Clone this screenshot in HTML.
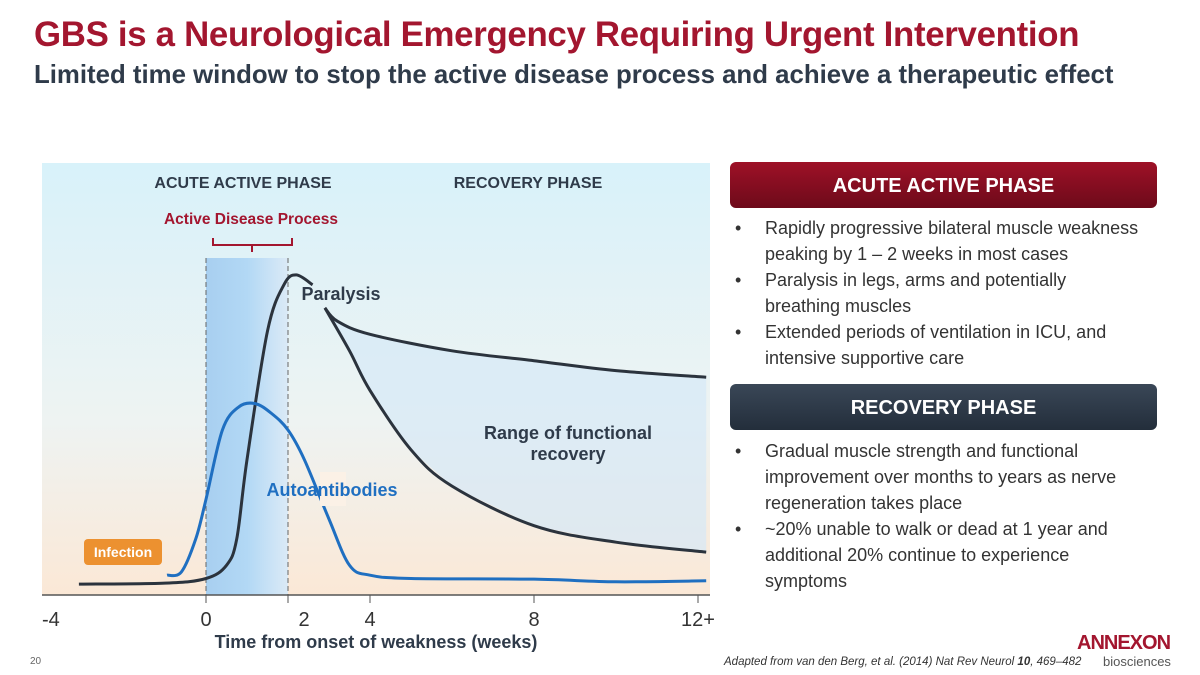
<!DOCTYPE html>
<html><head><meta charset="utf-8"><style>
body{margin:0;width:1200px;height:675px;overflow:hidden;background:#fff;font-family:"Liberation Sans",Calibri,sans-serif;position:relative}
.t1{position:absolute;left:34px;top:15px;font-size:34.8px;font-weight:bold;color:#a3162f;letter-spacing:-0.3px}
.t2{position:absolute;left:34px;top:61px;font-size:25.8px;font-weight:bold;color:#2f3b4a}
.hdr{position:absolute;left:730px;width:427px;height:46px;border-radius:6px;color:#fff;font-weight:bold;font-size:20px;text-align:center;line-height:48px}
ul{position:absolute;left:735px;margin:0;padding:0 0 0 30px;width:420px;font-size:18px;color:#333;line-height:26px;white-space:nowrap}
li{margin-bottom:0;list-style:none;position:relative}
li:before{content:"•";position:absolute;left:-30px}
</style></head><body>
<div class="t1">GBS is a Neurological Emergency Requiring Urgent Intervention</div>
<div class="t2">Limited time window to stop the active disease process and achieve a therapeutic effect</div>
<svg width="720" height="675" style="position:absolute;left:0;top:0" id="chart">
<defs>
<linearGradient id="bg" x1="0" y1="0" x2="0" y2="1"><stop offset="0" stop-color="#d8f2fa"/><stop offset="0.6" stop-color="#eef3f2"/><stop offset="1" stop-color="#fbe8d6"/></linearGradient>
<linearGradient id="band" x1="0" y1="0" x2="1" y2="0"><stop offset="0" stop-color="#a8cff0"/><stop offset="0.5" stop-color="#b2d8f5"/><stop offset="1" stop-color="#dbeaf6"/></linearGradient>
</defs>
<rect x="42" y="163" width="668" height="432" fill="url(#bg)"/>
<g id="marks"></g>
<text x="243" y="188" font-size="16" font-weight="bold" fill="#2f3b4a" text-anchor="middle">ACUTE ACTIVE PHASE</text>
<text x="528" y="188" font-size="16" font-weight="bold" fill="#2f3b4a" text-anchor="middle">RECOVERY PHASE</text>
<text x="251" y="224" font-size="15.5" font-weight="bold" fill="#a3162f" text-anchor="middle">Active Disease Process</text>
<path d="M213 238 V245 H292 V238 M252 245 V252" stroke="#a3162f" stroke-width="2" fill="none"/>
<text x="341" y="300" font-size="18" font-weight="bold" fill="#2f3b4a" text-anchor="middle">Paralysis</text>
<text x="568" y="439" font-size="18" font-weight="bold" fill="#2f3b4a" text-anchor="middle">Range of functional</text>
<text x="568" y="460" font-size="18" font-weight="bold" fill="#2f3b4a" text-anchor="middle">recovery</text>
<rect x="320" y="472" width="26" height="34" fill="#fbf1e6"/>
<text x="332" y="496" font-size="18" font-weight="bold" fill="#1f6fc1" text-anchor="middle">Autoantibodies</text>
<rect x="84" y="539" width="78" height="26" rx="4" fill="#ec9130"/>
<text x="123" y="557" font-size="14" font-weight="bold" fill="#fff" text-anchor="middle">Infection</text>
<line x1="42" y1="595" x2="710" y2="595" stroke="#555" stroke-width="1.5"/>
<g id="ticks"></g>
<text x="376" y="648" font-size="18" font-weight="bold" fill="#2f3b4a" text-anchor="middle">Time from onset of weakness (weeks)</text>
<text x="30" y="664" font-size="10" fill="#666">20</text>
</svg>
<div class="hdr" style="top:162px;background:linear-gradient(#9e1127,#6d0a1a)">ACUTE ACTIVE PHASE</div>
<ul style="top:215px">
<li>Rapidly progressive bilateral muscle weakness<br>peaking by 1 – 2 weeks in most cases</li>
<li>Paralysis in legs, arms and potentially<br>breathing muscles</li>
<li>Extended periods of ventilation in ICU, and<br>intensive supportive care</li>
</ul>
<div class="hdr" style="top:384px;background:linear-gradient(#3a4757,#232e3b)">RECOVERY PHASE</div>
<ul style="top:438px">
<li>Gradual muscle strength and functional<br>improvement over months to years as nerve<br>regeneration takes place</li>
<li>~20% unable to walk or dead at 1 year and<br>additional 20% continue to experience<br>symptoms</li>
</ul>
<div style="position:absolute;left:724px;top:656px;font-size:11.5px;font-style:italic;color:#333">Adapted from van den Berg, et al. (2014) Nat Rev Neurol <b>10</b>, 469–482</div>
<div style="position:absolute;left:1077px;top:632px;font-size:20px;font-weight:bold;color:#a3162f;letter-spacing:-1px">ANNEXON</div>
<div style="position:absolute;left:1103px;top:654px;font-size:13px;color:#555">biosciences</div>
<script>
const tickWeeks=[-4,0,2,4,8,12];
const tickLabels=["-4","0","2","4","8","12+"];
const parW=[-3.1,-1,0,0.5,0.75,1,1.5,1.9,2.2,2.6];
const parV=[3.3,3.6,5,9,17,41,80,94,97,94];
const upW=[2.9,3.2,4,6,8,10,12.2];
const upV=[87,83,79,74,71,68,66];
const loW=[2.9,3.5,4,5,6,8,10,12.2];
const loV=[87,74,62,44,33,21,16,13];
const abW=[-0.95,-0.6,-0.25,0,0.4,0.8,1.2,1.6,2,2.4,3,3.5,4,5,8,10,12.2];
const abV=[6,7,17,29,50,57,58,55,50,41,23,9,6,5,4.8,4,4.3];
const X=w=>206+41*w, Y=v=>595-3.3*v;
const NS="http://www.w3.org/2000/svg";
function pts(ws,vs){return ws.map((w,i)=>[X(w),Y(vs[i])]);}
function smooth(p){let d="M"+p[0][0]+" "+p[0][1];for(let i=0;i<p.length-1;i++){const a=p[i-1]||p[i],b=p[i],c=p[i+1],e=p[i+2]||c;d+=` C${b[0]+(c[0]-a[0])/6} ${b[1]+(c[1]-a[1])/6} ${c[0]-(e[0]-b[0])/6} ${c[1]-(e[1]-b[1])/6} ${c[0]} ${c[1]}`;}return d;}
const g=document.getElementById('marks');
function add(tag,attrs){const el=document.createElementNS(NS,tag);for(const k in attrs)el.setAttribute(k,attrs[k]);g.appendChild(el);return el;}
let r=add('rect',{x:X(0),y:258,width:X(2)-X(0),height:337,fill:'url(#band)'});


[0,2].forEach(w=>{const l=add('line',{x1:X(w),y1:258,x2:X(w),y2:595,stroke:'#666','stroke-dasharray':'5 3'});

});
const up=pts(upW,upV),lo=pts(loW,loV);
let area=add('path',{d:smooth(up)+" L"+lo.slice().reverse().map(p=>p.join(" ")).join(" L")+"Z",fill:'#d6e8f7',opacity:0.7});


let p1=add('path',{d:smooth(parW.map((w,i)=>[X(w),Y(parV[i])])),stroke:'#2b333d','stroke-width':3,fill:'none'});


let p2=add('path',{d:smooth(up),stroke:'#2b333d','stroke-width':3,fill:'none'});


let p3=add('path',{d:smooth(lo),stroke:'#2b333d','stroke-width':3,fill:'none'});


let p4=add('path',{d:smooth(pts(abW,abV)),stroke:'#1f6fc1','stroke-width':3,fill:'none'});


const tg=document.getElementById('ticks');
tickWeeks.forEach((w,i)=>{
 const x=X(w);
 if(w>-4){const l=document.createElementNS(NS,'line');l.setAttribute('x1',x);l.setAttribute('x2',x);l.setAttribute('y1',595);l.setAttribute('y2',603);l.setAttribute('stroke','#555');
 
 
 tg.appendChild(l);}
 const t=document.createElementNS(NS,'text');t.setAttribute('x',w==2?x+16:x);t.setAttribute('y',626);t.setAttribute('font-size',20);t.setAttribute('fill','#333');t.setAttribute('text-anchor',w==-4?'start':'middle');t.textContent=tickLabels[i];
 
 
 tg.appendChild(t);
});
</script>
</body></html>
